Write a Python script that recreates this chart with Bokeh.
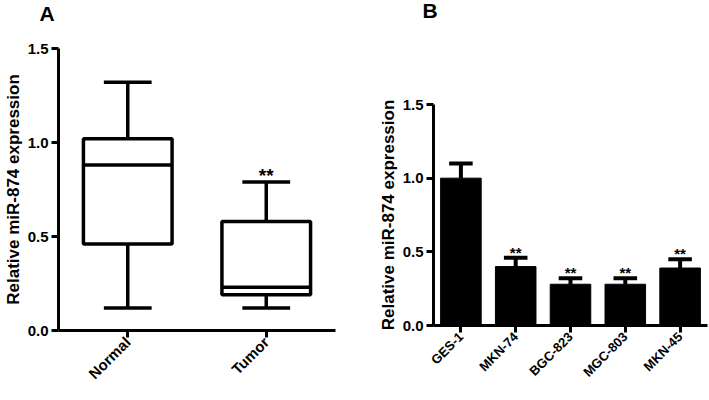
import math
from bokeh.plotting import figure
from bokeh.layouts import row
from bokeh.models import Range1d, FactorRange, FixedTicker, ColumnDataSource, Title
from bokeh.core.properties import value
from bokeh.embed import file_html
from bokeh.resources import INLINE

FONT = "Liberation Sans"

# Panel A: box plot data
groups = ["Normal", "Tumor"]
q1 = [0.46, 0.19]
median = [0.88, 0.23]
q3 = [1.02, 0.58]
low = [0.12, 0.12]
high = [1.32, 0.79]
sig_a = ["", "**"]

# Panel B: bar data
cells = ["GES-1", "MKN-74", "BGC-823", "MGC-803", "MKN-45"]
means = [1.00, 0.40, 0.28, 0.28, 0.39]
errs = [0.10, 0.06, 0.04, 0.04, 0.06]
sig_b = ["", "**", "**", "**", "**"]

y_ticks = [0.0, 0.5, 1.0, 1.5]
y_label = "Relative miR-874 expression"


def style(p, tick_size, label_size, xlab_size):
    p.xgrid.visible = False
    p.ygrid.visible = False
    p.outline_line_color = None
    p.background_fill_color = "white"
    p.border_fill_color = "white"
    p.yaxis.ticker = FixedTicker(ticks=y_ticks)
    p.yaxis.major_label_overrides = {t: f"{t:.1f}" for t in y_ticks}
    for ax in (p.xaxis[0], p.yaxis[0]):
        ax.axis_line_width = 3
        ax.axis_line_color = "black"
        ax.major_tick_line_width = 3
        ax.major_tick_line_color = "black"
        ax.major_tick_out = 7
        ax.major_tick_in = 0
        ax.minor_tick_line_color = None
        ax.major_label_text_font = FONT
        ax.major_label_text_font_style = "bold"
        ax.major_label_text_color = "black"
    p.yaxis.major_label_text_font_size = f"{tick_size}px"
    p.xaxis.major_label_text_font_size = f"{xlab_size}px"
    p.xaxis.major_label_orientation = math.pi / 4
    p.xaxis.major_label_standoff = 2
    p.yaxis.major_label_standoff = 3
    p.yaxis.axis_label = y_label
    p.yaxis.axis_label_text_font = FONT
    p.yaxis.axis_label_text_font_style = "bold"
    p.yaxis.axis_label_text_font_size = f"{label_size}px"
    p.yaxis.axis_label_text_color = "black"
    p.yaxis.axis_label_standoff = 2


def add_letter(p, letter, offset, letter_standoff, spacer_standoff):
    # empty spacer title next to the frame, panel letter above it
    p.add_layout(Title(text=" ", standoff=spacer_standoff, text_font=FONT,
                       text_font_size="8px"), "above")
    p.add_layout(Title(text=letter, align="left", offset=offset, standoff=letter_standoff,
                       text_font=FONT, text_font_style="bold", text_font_size="21px",
                       text_color="black"), "above")


WA, WB, H = 360, 349, 400

# ---------- Panel A ----------
pa = figure(width=WA, height=H, x_range=FactorRange(*groups), y_range=Range1d(0, 1.5),
            output_backend="svg", toolbar_location=None, frame_align=False,
            min_border_left=57, min_border_top=48, min_border_bottom=70, min_border_right=WA - 335)
style(pa, 15, 17, 15)
add_letter(pa, "A", -19, -2, 14)

box_w = 0.64
cap_w = 0.345
src_a = ColumnDataSource(dict(
    g=groups, q1=q1, q3=q3, med=median, low=low, high=high, sig=sig_a,
    bl=[(g, -box_w / 2) for g in groups], br=[(g, box_w / 2) for g in groups],
    cl=[(g, -cap_w / 2) for g in groups], cr=[(g, cap_w / 2) for g in groups],
))
pa.segment(x0="g", y0="q3", x1="g", y1="high", source=src_a, line_color="black", line_width=3.5)
pa.segment(x0="g", y0="q1", x1="g", y1="low", source=src_a, line_color="black", line_width=3.5)
pa.segment(x0="cl", y0="high", x1="cr", y1="high", source=src_a, line_color="black", line_width=3.5)
pa.segment(x0="cl", y0="low", x1="cr", y1="low", source=src_a, line_color="black", line_width=3.5)
pa.vbar(x="g", bottom="q1", top="q3", width=box_w, source=src_a,
        fill_color="white", line_color="black", line_width=3.5)
pa.segment(x0="bl", y0="med", x1="br", y1="med", source=src_a, line_color="black", line_width=3.5)
pa.text(x="g", y="high", text="sig", source=src_a, text_font=value(FONT), text_font_style="bold",
        text_font_size="19px", text_align="center", text_baseline="bottom", text_color="black",
        y_offset=4)

# ---------- Panel B ----------
pb = figure(width=WB, height=H, x_range=FactorRange(*cells), y_range=Range1d(0, 1.5),
            output_backend="svg", toolbar_location=None, frame_align=False,
            min_border_left=433 - WA, min_border_top=104, min_border_bottom=75, min_border_right=2)
style(pb, 15, 17, 13)
add_letter(pb, "B", -11, -8, 76)

bar_w = 0.74
ecap_w = 0.43
src_b = ColumnDataSource(dict(
    c=cells, m=means, top=[m + e for m, e in zip(means, errs)], sig=sig_b,
    cl=[(c, -ecap_w / 2) for c in cells], cr=[(c, ecap_w / 2) for c in cells],
))
pb.segment(x0="c", y0="m", x1="c", y1="top", source=src_b, line_color="black", line_width=4)
pb.segment(x0="cl", y0="top", x1="cr", y1="top", source=src_b, line_color="black", line_width=4)
pb.vbar(x="c", top="m", width=bar_w, source=src_b, fill_color="black", line_color="black")
pb.text(x="c", y="top", text="sig", source=src_b, text_font=value(FONT), text_font_style="bold",
        text_font_size="15px", text_align="center", text_baseline="bottom", text_color="black",
        y_offset=3)

layout = row(pa, pb)
open("out.html", "w").write(file_html(layout, INLINE))
